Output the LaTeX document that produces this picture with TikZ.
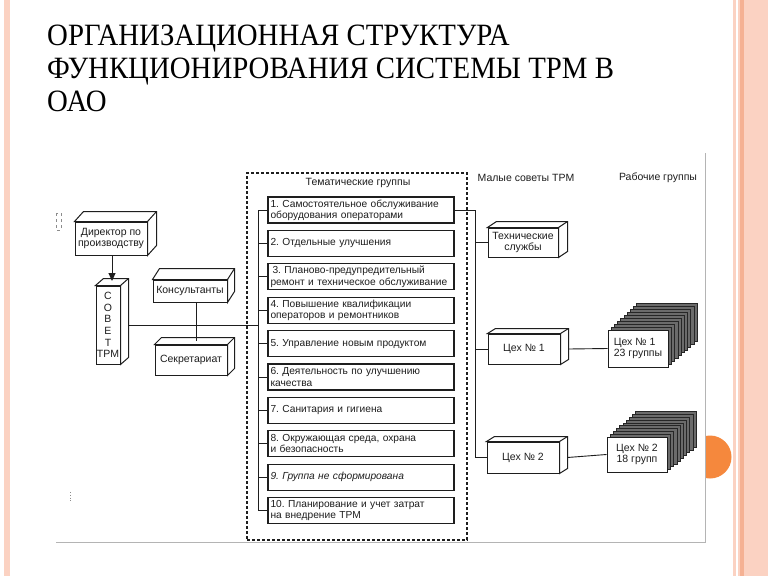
\documentclass[tikz,border=0pt]{standalone}
\usepackage{fontspec}
\setmainfont{Liberation Serif}
\newfontfamily\dsans{Liberation Sans}
\usetikzlibrary{arrows.meta}
\frenchspacing

\definecolor{pinkband}{HTML}{FBD2C2}
\definecolor{pinkdark}{HTML}{F5B193}
\definecolor{orangedot}{HTML}{F5883D}
\definecolor{framegray}{HTML}{B4B4B4}
\definecolor{ink}{HTML}{1E1E1E}

\tikzset{
  boxline/.style={draw=ink, line width=1pt},
  frontbox/.style={boxline, fill=white, inner sep=0pt, text=ink, align=center,
    font=\dsans\fontsize{10.5}{11.5}\selectfont},
  itembox/.style={draw=ink, line width=1.3pt, fill=white, text width=181pt, inner xsep=2.5pt,
    inner ysep=0pt, minimum height=26pt, align=left, text=ink,
    font=\dsans\fontsize{10.2}{11.3}\selectfont},
  conn/.style={draw=ink, line width=0.9pt},
  hdr/.style={text=ink, inner sep=0pt, font=\dsans\fontsize{10.5}{12}\selectfont},
  card/.style={fill=black!58, draw=black!85, line width=0.5pt},
  titletext/.style={anchor=base west, inner sep=0pt, text=black, font=\fontsize{31}{36}\selectfont},
}

\newcommand\boxfaces[3]{%
  \filldraw[boxline, fill=white] (#1.north west) -- ++(#2,#3) -- ([shift={(#2,#3)}]#1.north east)
    -- ([shift={(#2,#3)}]#1.south east) -- (#1.south east) -- (#1.north east) -- cycle;
  \draw[boxline] (#1.north east) -- ++(#2,#3);
}

\begin{document}
\begin{tikzpicture}[x=1pt,y=-1pt]
\useasboundingbox (0,0) rectangle (768,576);
\fill[white] (0,0) rectangle (768,576);

% slide decoration
\fill[pinkband] (4,0) rectangle (10,576);
\fill[pinkband] (733,0) rectangle (768,576);
\fill[white] (736,0) rectangle (738,576);
\fill[pinkdark] (740,0) rectangle (744,576);
\fill[orangedot] (710,457) circle[radius=21.5];

% picture area
\fill[white] (56,153) rectangle (705,542);
\draw[framegray, line width=0.8pt] (56,542) -- (705,542) -- (705,153);
\draw[black!45, dashed, line width=0.6pt] (56,213) rectangle (61,230);
\draw[black!45, dotted, line width=0.8pt] (70,492) -- (70,502);

% title
\node[titletext] (t1) at (47,45) {\scalebox{0.93}[1]{ОРГАНИЗАЦИОННАЯ СТРУКТУРА}};
\node[titletext] (t2) at (47,78) {\scalebox{0.93}[1]{ФУНКЦИОНИРОВАНИЯ СИСТЕМЫ TPM В}};
\node[titletext] (t3) at (47,111) {\scalebox{0.93}[1]{ОАО}};

% thematic group frame
\node[draw=ink, line width=1.2pt, dash pattern=on 3pt off 2pt, minimum width=220pt,
  minimum height=367pt, inner sep=0pt] (grp) at (357,356.5) {};
\node[hdr] (hgrp) at (358,183) {Тематические группы};
\node[hdr] (hsm) at (526,178) {Малые советы TPM};
\node[hdr] (hwg) at (658,178) {Рабочие группы};

% items
\node[itembox] (it1) at (361,210.0) {1. Самостоятельное обслуживание\\оборудования операторами};
\node[itembox] (it2) at (361,243.4) {2. Отдельные улучшения};
\node[itembox] (it3) at (361,276.8) {\hspace*{2pt}3. Планово-предупредительный\\\mbox{ремонт и техническое обслуживание}};
\node[itembox] (it4) at (361,310.2) {4. Повышение квалификации\\операторов и ремонтников};
\node[itembox] (it5) at (361,343.6) {5. Управление новым продуктом};
\node[itembox] (it6) at (361,377.0) {6. Деятельность по улучшению\\качества};
\node[itembox] (it7) at (361,410.4) {7. Санитария и гигиена};
\node[itembox] (it8) at (361,443.8) {8. Окружающая среда, охрана\\и безопасность};
\node[itembox] (it9) at (361,477.2) {\itshape 9. Группа не сформирована};
\node[itembox] (it10) at (361,510.6) {10. Планирование и учет затрат\\на внедрение TPM};

% left side boxes
\node[frontbox, minimum width=72pt, minimum height=33pt] (dir) at (111,238.5) {Директор по\\производству};
\boxfaces{dir}{9}{-10}
\node[frontbox, minimum width=24pt, minimum height=78pt,
  font=\dsans\fontsize{10.5}{11.6}\selectfont] (sovet) at (108,325) {С\\О\\В\\Е\\Т\\TPM};
\boxfaces{sovet}{8}{-7}
\node[frontbox, minimum width=74pt, minimum height=22pt] (kons) at (190,291) {Консультанты};
\boxfaces{kons}{7}{-11}
\node[frontbox, minimum width=72pt, minimum height=30pt] (sekr) at (191,360) {Секретариат};
\boxfaces{sekr}{7}{-7}

% right side boxes
\node[frontbox, minimum width=70pt, minimum height=29pt] (tech) at (523,242.5) {Технические\\службы};
\boxfaces{tech}{9}{-6}
\node[frontbox, minimum width=72pt, minimum height=30pt] (ceh1) at (524,349) {Цех № 1};
\boxfaces{ceh1}{8}{-5}
\node[frontbox, minimum width=72pt, minimum height=31pt] (ceh2) at (523,457.5) {Цех № 2};
\boxfaces{ceh2}{8}{-5}

% stacks of work groups
\node[inner sep=0pt, minimum width=60pt, minimum height=37pt] (stk1) at (638,348.5) {};
\foreach \k in {9,...,1}
  \filldraw[card] ([shift={(3.2*\k,-2.9*\k)}]stk1.south west) rectangle ([shift={(3.2*\k,-2.9*\k)}]stk1.north east);
\node[frontbox, minimum width=60pt, minimum height=37pt, align=left] (stk1f) at (stk1.center) {Цех № 1\\23 группы};

\node[inner sep=0pt, minimum width=60pt, minimum height=35pt] (stk2) at (637,454.5) {};
\foreach \k in {9,...,1}
  \filldraw[card] ([shift={(3.2*\k,-2.8*\k)}]stk2.south west) rectangle ([shift={(3.2*\k,-2.8*\k)}]stk2.north east);
\node[frontbox, minimum width=60pt, minimum height=35pt] (stk2f) at (stk2.center) {Цех № 2\\18 групп};

% connectors
\coordinate (sovtop) at (112,281);
\draw[conn, -{Triangle[length=8pt,width=7pt]}] ([xshift=1pt]dir.south) -- (sovtop);
\draw[conn] ([xshift=6pt]kons.south) -- ([xshift=5pt,yshift=4pt]sekr.north);

\coordinate (lb1) at (258,210);
\coordinate (lb10) at (258,510.6);
\draw[conn] ([xshift=8pt]sovet.east) -- (sovet.east -| lb1);
\draw[conn] (it1.west) -- (lb1) -- (lb10) -- (it10.west);
\foreach \i in {2,...,9} \draw[conn] (it\i.west) -- (it\i.west -| lb1);

\coordinate (rb1) at (475,210);
\coordinate (rb2) at (475,457.5);
\draw[conn] (it1.east) -- (rb1) -- (rb2) -- (ceh2.west);
\draw[conn] (tech.west) -- (tech.west -| rb1);
\draw[conn] (ceh1.west) -- (ceh1.west -| rb1);

\draw[conn] ([xshift=8pt]ceh1.east) -- (stk1f.west);
\draw[conn] ([xshift=8pt]ceh2.east) -- (stk2f.west);
\end{tikzpicture}
\end{document}
